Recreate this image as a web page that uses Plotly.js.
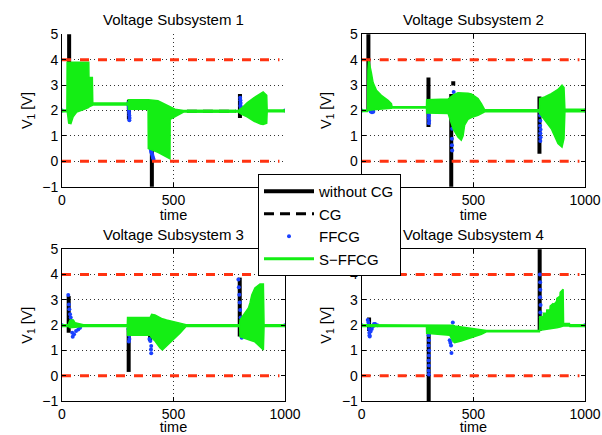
<!DOCTYPE html>
<html><head><meta charset="utf-8">
<script src="https://cdn.plot.ly/plotly-3.0.1.min.js"></script>
<style>html,body{margin:0;padding:0;background:#fff}#chart{width:602px;height:435px}</style>
</head><body><div id="chart"></div>
<script>
// ---------- data ----------
const subplotTitles = ['Voltage Subsystem 1','Voltage Subsystem 2','Voltage Subsystem 3','Voltage Subsystem 4'];
const seriesNames = ['without CG','CG','FFCG','S\u2212FFCG'];
const xTicks = [0, 500, 1000];
const yTicks = [-1, 0, 1, 2, 3, 4, 5];

// constraint lines
const limX = [0, 975];
const limHi = [4, 4];
const limLo = [0, 0];

// Subsystem 1
const s1BlackX = [32,32,null,300,300,null,403,403,null,798,798];
const s1BlackY = [2,5.6,null,1.65,2.42,null,0.45,-1.6,null,1.7,2.65];
const s1BlueX = [0, 297,298,299,300,301,302,303,302, 397,399,401,403,405,407,409,411, 799,800,801,800,802,801,803, 1000];
const s1BlueY = [2.0, 2.3,2.2,2.1,2.0,1.9,1.8,1.7,1.62, 0.5,0.42,0.35,0.3,0.25,0.18,0.12,0.05, 2.5,2.4,2.3,2.2,2.1,2.15,2.0, 2.0];
const s1GreenX  = [0,22,23,30,40,50,66,100,120,121,136,138,297,298,386,387,430,484,485,507,545,790,806,830,860,890,902,918,920,1000];
const s1GreenUp = [2.02,2.02,3.9,3.9,3.9,3.9,3.9,3.9,3.9,3.3,3.3,2.3,2.3,2.42,2.42,2.42,2.38,2.14,2.14,2.05,2.0,2.0,2.1,2.3,2.5,2.68,2.73,2.6,2.02,2.02];
const s1GreenLo = [1.95,1.95,2.0,1.5,1.48,1.75,1.94,2.05,2.12,2.14,2.2,2.22,2.22,2.05,2.05,0.5,0.35,0.1,1.65,1.75,1.94,1.94,1.85,1.75,1.58,1.47,1.45,1.5,1.95,1.95];
const s1CgX = [560, 780];
const s1CgY = [1.97, 1.97];
const s1SLineX = [560, 780];
const s1SLineY = [1.97, 1.97];

// Subsystem 2
const s2BlackX = [30,30,null,299,299,null,401,401,null,410,410,null,796,796];
const s2BlackY = [2,5.6,null,1.35,3.3,null,2.65,-1.6,null,2.98,3.15,null,2.55,0.3];
const s2BlueX = [0, 40,46,52, 299,301,300,302,301, 412,410,408,406,405,404,404,405, 798,799,800,799,801,800,801,800, 1000];
const s2BlueY = [2.0, 1.96,1.93,1.95, 1.9,1.8,1.7,1.6,1.5, 2.73,2.47,2.07,1.68,1.28,0.89,0.63,0.43, 1.95,1.8,1.6,1.4,1.25,1.1,0.95,0.8, 2.0];
const s2GreenX  = [0,26,28,31,43,51,66,88,118,133,136,290,291,387,394,409,431,446,454,461,476,491,521,536,551,796,797,819,849,879,897,906,910,1000];
const s2GreenUp = [2.02,2.02,3.6,4.0,3.5,3.1,2.8,2.6,2.4,2.27,2.15,2.15,2.42,2.45,2.5,2.6,2.7,2.7,2.7,2.7,2.68,2.65,2.47,2.27,2.03,2.03,2.47,2.53,2.66,2.83,3.0,2.9,2.05,2.05];
const s2GreenLo = [1.96,1.96,2.0,2.0,2.02,2.03,2.05,2.07,2.08,2.09,2.1,2.1,1.9,1.88,1.68,1.28,0.96,0.83,1.0,1.42,1.65,1.72,1.81,1.88,1.95,1.95,1.88,1.61,1.28,0.7,0.56,0.9,1.95,1.95];

// Subsystem 3
const s3BlackX = [30,30,null,299,299,null,395,395,null,797,797];
const s3BlackY = [3.15,1.7,null,1.9,0.15,null,1.6,1.37,null,3.88,1.55];
const s3BlueX = [0, 28,31,33,36,39,43,46,48,54,63,73,81, 298,300,301,302,300, 392,396,400,399,400, 791,793,795,797,799,801,803,805,806, 1000];
const s3BlueY = [2.0, 3.19,2.82,2.63,2.43,2.3,2.16,1.7,1.54,1.64,1.77,1.83,1.9, 1.85,1.75,1.6,1.45,1.35, 1.45,1.37,1.18,1.04,0.89, 3.81,3.5,3.2,2.9,2.6,2.3,2.0,1.7,1.5, 2.0];
const s3GreenX  = [0,28,36,51,58,96,293,294,395,402,417,425,439,450,469,499,514,529,556,797,798,821,836,843,851,865,888,903,906,1000];
const s3GreenUp = [2.02,2.02,2.2,2.2,2.1,2.02,2.02,2.3,2.3,2.43,2.4,2.36,2.3,2.25,2.2,2.15,2.12,2.08,2.02,2.02,2.2,2.48,2.68,2.88,3.19,3.47,3.63,3.63,2.02,2.02];
const s3GreenLo = [1.95,1.95,1.9,1.9,1.93,1.95,1.95,1.6,1.6,1.5,1.37,1.3,1.11,1.02,1.18,1.44,1.55,1.68,1.95,1.95,1.54,1.47,1.43,1.4,1.38,1.34,1.15,1.02,1.95,1.95];

// Subsystem 4
const s4BlackX = [33,33,null,300,300,null,797,797];
const s4BlackY = [2.3,1.77,null,1.65,-1.6,null,1.77,5.6];
const s4BlueX = [0, 27,30,32,33,34,35,36,40,45,50,55,60,70, 299,300,301,300,302,301,300,301,300,301, 394,397,400,402,404,406,408, 798,799,800,799,801,800,802, 1000];
const s4BlueY = [2.0, 2.2,2.1,2.0,1.85,1.7,1.6,1.55,1.75,1.85,1.95,2.05,2.05,2.0, 1.8,1.6,1.4,1.2,1.0,0.8,0.6,0.4,0.2,0.05, 1.4,1.3,1.2,0.9,1.6,1.9,2.1, 4.0,3.7,3.4,3.1,2.8,2.5,2.3, 2.0];
const s4GreenX  = [0,290,291,394,409,416,446,476,491,536,558,796,797,813,814,828,829,843,844,858,859,873,874,888,889,902,904,930,932,1000];
const s4GreenUp = [2.02,2.02,2.02,2.02,2.0,1.97,1.93,1.9,1.88,1.83,1.79,1.79,2.33,2.33,2.47,2.47,2.6,2.6,2.75,2.86,2.8,2.95,3.06,3.15,3.3,3.42,2.07,2.07,2.02,2.02];
const s4GreenLo = [1.95,1.95,1.68,1.6,1.35,1.31,1.37,1.45,1.5,1.64,1.74,1.74,1.8,1.82,1.82,1.84,1.84,1.86,1.86,1.88,1.88,1.9,1.9,1.93,1.93,1.96,1.97,1.97,1.95,1.95];

// ---------- styles ----------
const BLACK = '#000000', BLUE = '#1a40ff', GREEN = '#14ee14', RED = '#ff3311';
const FONT = 'Liberation Sans, Arial, Helvetica, sans-serif';

const panels = [
  {xa:'x',  ya:'y',  bx:s1BlackX, by:s1BlackY, ux:s1BlueX, uy:s1BlueY, gx:s1GreenX, gu:s1GreenUp, gl:s1GreenLo},
  {xa:'x2', ya:'y2', bx:s2BlackX, by:s2BlackY, ux:s2BlueX, uy:s2BlueY, gx:s2GreenX, gu:s2GreenUp, gl:s2GreenLo},
  {xa:'x3', ya:'y3', bx:s3BlackX, by:s3BlackY, ux:s3BlueX, uy:s3BlueY, gx:s3GreenX, gu:s3GreenUp, gl:s3GreenLo},
  {xa:'x4', ya:'y4', bx:s4BlackX, by:s4BlackY, ux:s4BlueX, uy:s4BlueY, gx:s4GreenX, gu:s4GreenUp, gl:s4GreenLo}
];

const traces = [];
panels.forEach((p, i) => {
  const first = i === 0;
  traces.push({type:'scatter', mode:'lines', x:p.bx, y:p.by, xaxis:p.xa, yaxis:p.ya,
    line:{color:BLACK, width:4}, name:seriesNames[0], legendgroup:'a', showlegend:first, hoverinfo:'skip'});
  if (first) {
    traces.push({type:'scatter', mode:'lines', x:s1CgX, y:s1CgY, xaxis:p.xa, yaxis:p.ya,
      line:{color:BLACK, width:3, dash:'10px,6px'}, name:seriesNames[1], legendgroup:'b', showlegend:true, hoverinfo:'skip'});
  }
  traces.push({type:'scatter', mode:'markers', x:p.ux, y:p.uy, xaxis:p.xa, yaxis:p.ya,
    marker:{color:BLUE, size:4}, name:seriesNames[2], legendgroup:'c', showlegend:first, hoverinfo:'skip'});
  const polyX = p.gx.concat(p.gx.slice().reverse());
  const polyY = p.gu.concat(p.gl.slice().reverse());
  traces.push({type:'scatter', mode:'lines', x:polyX, y:polyY, xaxis:p.xa, yaxis:p.ya, fill:'toself',
    fillcolor:GREEN, line:{color:GREEN, width:1.5}, name:seriesNames[3], legendgroup:'d', showlegend:false, hoverinfo:'skip'});
  if (first) {
    traces.push({type:'scatter', mode:'lines', x:s1SLineX, y:s1SLineY, xaxis:p.xa, yaxis:p.ya,
      line:{color:GREEN, width:3}, name:seriesNames[3], legendgroup:'d', showlegend:true, hoverinfo:'skip'});
  }
  [limHi, limLo].forEach(ly => {
    traces.push({type:'scatter', mode:'lines', x:limX, y:ly, xaxis:p.xa, yaxis:p.ya,
      line:{color:RED, width:3, dash:'9px,9px'}, showlegend:false, hoverinfo:'skip'});
  });
});

const W = 602, H = 435;
const xdomL = [62/W, 285/W], xdomR = [361.7/W, 585/W];
const ydomT = [1-186.7/H, 1-34.3/H], ydomB = [1-401/H, 1-249.3/H];

function xax(domain, anchor, mirror) {
  return {domain, anchor, range:[0,1000], tickvals:xTicks, ticktext:xTicks.map(String),
    showgrid:true, gridcolor:'#333', griddash:'1px,3px', gridwidth:1,
    showline:true, linecolor:'#000', linewidth:1, mirror:mirror,
    ticks:'inside', ticklen:4, tickcolor:'#000', zeroline:false,
    tickfont:{size:14, color:'#000', family:FONT},
    title:{text:'time', font:{size:14.5, color:'#000', family:FONT}, standoff:2}};
}
function yax(domain, anchor, mirror) {
  return {domain, anchor, range:[-1,5], tickvals:yTicks,
    showgrid:true, gridcolor:'#333', griddash:'1px,3px', gridwidth:1,
    showline:true, linecolor:'#000', linewidth:1, mirror:mirror,
    ticks:'inside', ticklen:4, tickcolor:'#000', zeroline:false,
    tickfont:{size:14, color:'#000', family:FONT},
    title:{text:'V<sub>1</sub> [V]', font:{size:14.5, color:'#000', family:FONT}, standoff:6}};
}

const layout = {
  width:W, height:H, margin:{l:0, r:0, t:0, b:0},
  paper_bgcolor:'#fff', plot_bgcolor:'#fff',
  font:{family:FONT, color:'#000'},
  showlegend:true,
  xaxis: xax(xdomL, 'y', false),  yaxis: yax(ydomT, 'x', false),
  xaxis2: xax(xdomR, 'y2', 'ticks'), yaxis2: yax(ydomT, 'x2', 'ticks'),
  xaxis3: xax(xdomL, 'y3', 'ticks'), yaxis3: yax(ydomB, 'x3', 'ticks'),
  xaxis4: xax(xdomR, 'y4', 'ticks'), yaxis4: yax(ydomB, 'x4', 'ticks'),
  legend:{x:258/W, y:1-174/H, xanchor:'left', yanchor:'top', bgcolor:'#fff',
    bordercolor:'#000', borderwidth:1, font:{size:15, color:'#000', family:FONT}, itemwidth:50, traceorder:'normal'},
  annotations: subplotTitles.map((t, i) => ({
    text:t, showarrow:false, xref:'paper', yref:'paper',
    x: (i % 2 === 0) ? (xdomL[0]+xdomL[1])/2 : (xdomR[0]+xdomR[1])/2,
    y: i < 2 ? 1-19.5/H : 1-234.5/H, xanchor:'center', yanchor:'middle',
    font:{size:15, color:'#000', family:FONT}}))
};

Plotly.newPlot('chart', traces, layout, {staticPlot:true});
</script></body></html>
